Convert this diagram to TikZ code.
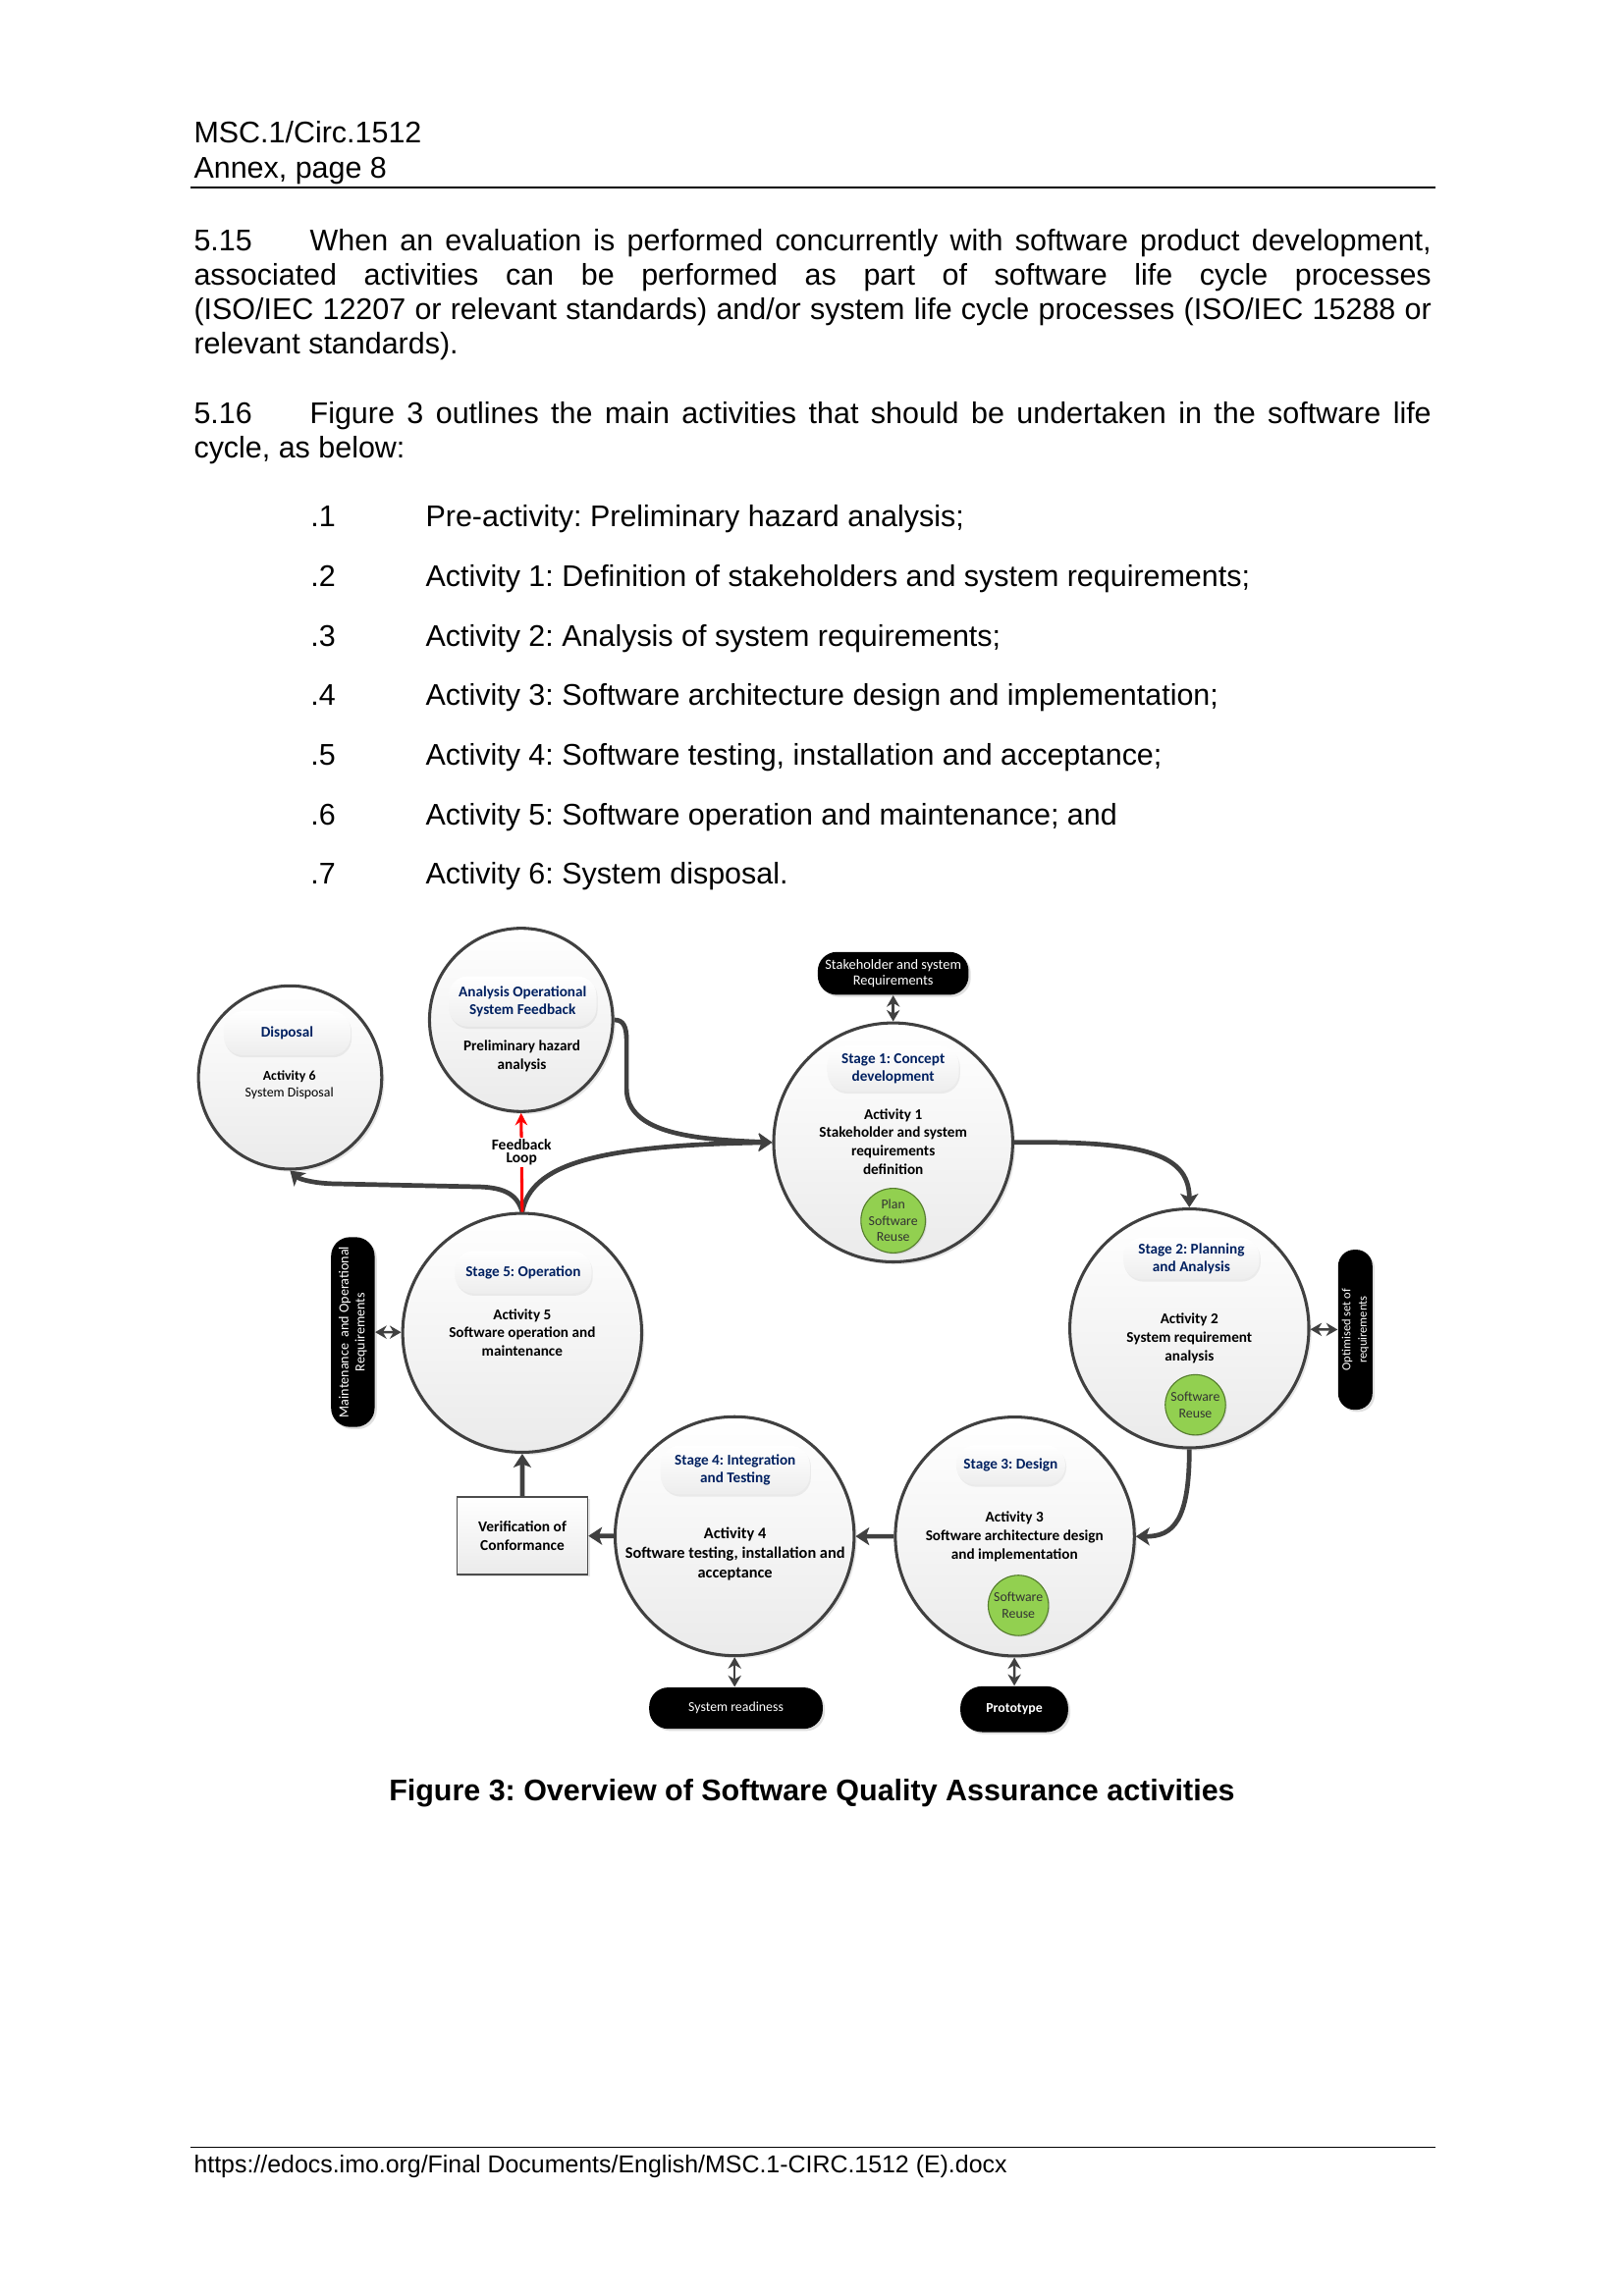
\documentclass[tikz,border=0pt]{standalone}
\usepackage{fontspec}
\setmainfont{Liberation Sans}
\newfontfamily\diagfont{Carlito}
\usetikzlibrary{arrows.meta,shadows}
\definecolor{navy}{RGB}{0,32,96}
\definecolor{linegray}{RGB}{64,64,64}
\definecolor{reusegreen}{RGB}{146,208,80}
\definecolor{reuseedge}{RGB}{85,125,45}
\frenchspacing

\tikzset{
  stagecircle/.style={circle,draw=linegray,line width=1.1pt,minimum size=3.09cm,top color=white,bottom color=black!8,
    drop shadow={shadow xshift=1pt,shadow yshift=-1pt,opacity=0.18}},
  endcircle/.style={stagecircle,minimum size=2.37cm},
  titlepill/.style={rounded corners=7pt,top color=white,bottom color=black!7,text=navy,align=center,inner sep=0pt,
    drop shadow={shadow xshift=0.4pt,shadow yshift=-0.8pt,opacity=0.12},
    font=\diagfont\bfseries\fontsize{5.5}{6.7}\selectfont},
  acttext/.style={align=center,inner sep=0pt,font=\diagfont\bfseries\fontsize{5.5}{6.74}\selectfont},
  reuse/.style={circle,draw=reuseedge,line width=0.4pt,fill=reusegreen,minimum size=0.78cm,inner sep=0pt,align=center,
    text=black!80,font=\diagfont\fontsize{5}{6}\selectfont,drop shadow={shadow xshift=0.5pt,shadow yshift=-0.5pt,opacity=0.2}},
  blackpill/.style={rounded corners=7pt,fill=black,text=white,align=center,inner sep=0pt,
    font=\diagfont\fontsize{5}{6}\selectfont,drop shadow={shadow xshift=0.8pt,shadow yshift=-0.8pt,opacity=0.25}},
  flow/.style={draw=linegray,line width=1.7pt,-{Stealth[length=5pt,width=6.5pt,inset=1.2pt]}},
  biarrow/.style={draw=linegray,line width=0.9pt,{Stealth[length=4.2pt,width=4.8pt]}-{Stealth[length=4.2pt,width=4.8pt]}},
  feedback/.style={draw=red,line width=1.1pt,-{Stealth[length=4.5pt,width=4.5pt]}},
  para/.style={anchor=base west,inner sep=0pt,text width=16cm,align=justify,font=\fontsize{11}{12.65}\selectfont},
  pagetext/.style={anchor=base west,inner sep=0pt,font=\fontsize{11}{12.65}\selectfont}
}

\begin{document}
\begin{tikzpicture}[x=0.019091cm,y=-0.019091cm]
    \path[use as bounding box,fill=white] (0,0) rectangle (1100,1555.6);

    % Header
    \node[pagetext] (docref) at (131,97) {MSC.1/Circ.1512};
    \node[pagetext] (annex) at (131,121) {Annex, page 8};
    \draw[line width=0.5pt] (129,127) -- (972,127);

    % Paragraphs
    \node[para] (p515) at (131,169.6) {\hyphenpenalty=10000\tolerance=9999\makebox[1.5cm][l]{5.15}When an evaluation is performed concurrently with software product development,\linebreak
      associated activities can be performed as part of software life cycle processes\linebreak
      (ISO/IEC 12207 or relevant standards) and/or system life cycle processes (ISO/IEC 15288 or\linebreak
      relevant standards).};
    \node[para] (p516) at (131,286.7) {\hyphenpenalty=10000\tolerance=9999\makebox[1.5cm][l]{5.16}Figure 3 outlines the main activities that should be undertaken in the software life\linebreak
      cycle, as below:};

    % List
    \foreach \n/\txt in {1/{Pre-activity: Preliminary hazard analysis;},
        2/{Activity 1: Definition of stakeholders and system requirements;},
        3/{Activity 2: Analysis of system requirements;},
        4/{Activity 3: Software architecture design and implementation;},
        5/{Activity 4: Software testing, installation and acceptance;},
        6/{Activity 5: Software operation and maintenance; and},
        7/{Activity 6: System disposal.}} {
      \node[pagetext] (num\n) at (210,{357.1+40.35*(\n-1)}) {.\n};
      \node[pagetext] (item\n) at (288,{357.1+40.35*(\n-1)}) {\txt};
    }

    % Stages
    \node[endcircle] (disp) at (196.5,730) {};
    \node[titlepill,minimum width=1.64cm,minimum height=0.57cm] (dispt) at (194.5,700) {Disposal};
    \node[align=center,inner sep=0pt,font=\diagfont\fontsize{5}{6}\selectfont] (dispa) at (196,735.1) {\textbf{Activity 6}\\System Disposal};

    \node[endcircle] (anal) at (353,691) {};
    \node[titlepill,minimum width=1.91cm,minimum height=0.65cm] (analt) at (354,678.5) {Analysis Operational\\System Feedback};
    \node[acttext] (anala) at (353.5,715.7) {Preliminary hazard\\analysis};

    \node[stagecircle] (s1) at (605,774) {};
    \node[titlepill,minimum width=1.70cm,minimum height=0.59cm] (s1t) at (605,724) {Stage 1: Concept\\development};
    \node[acttext] (s1a) at (605,773.4) {Activity 1\\Stakeholder and system\\requirements\\definition};
    \node[reuse] (s1g) at (605,827) {Plan\\Software\\Reuse};

    \node[stagecircle] (s2) at (805.6,900) {};
    \node[titlepill,minimum width=1.76cm,minimum height=0.54cm] (s2t) at (807,852.7) {Stage 2: Planning\\and Analysis};
    \node[acttext] (s2a) at (805.6,906.7) {Activity 2\\System requirement\\analysis};
    \node[reuse] (s2g) at (809.7,951.8) {Software\\Reuse};

    \node[stagecircle] (s3) at (687.4,1041) {};
    \node[titlepill,minimum width=1.41cm,minimum height=0.51cm] (s3t) at (684.6,992.5) {Stage 3: Design};
    \node[acttext] (s3a) at (687.2,1041) {Activity 3\\Software architecture design\\and implementation};
    \node[reuse] (s3g) at (689.8,1087.7) {Software\\Reuse};

    \node[stagecircle] (s4) at (497.6,1040.8) {};
    \node[titlepill,minimum width=1.93cm,minimum height=0.63cm] (s4t) at (498,996) {Stage 4: Integration\\and Testing};
    \node[acttext,font=\diagfont\bfseries\fontsize{5.9}{7.2}\selectfont] (s4a) at (497.9,1052.7) {Activity 4\\Software testing, installation and\\acceptance};

    \node[stagecircle] (s5) at (353.7,903) {};
    \node[titlepill,minimum width=1.77cm,minimum height=0.55cm] (s5t) at (354.4,862) {Stage 5: Operation};
    \node[acttext] (s5a) at (353.7,902.9) {Activity 5\\Software operation and\\maintenance};

    % Outputs
    \node[blackpill,minimum width=1.95cm,minimum height=0.554cm,font=\diagfont\fontsize{5.2}{6}\selectfont] (stake) at (605,659.5) {Stakeholder and system\\Requirements};
    \node[blackpill,rotate=90,rounded corners=6pt,minimum width=2.07cm,minimum height=0.443cm,font=\diagfont\fontsize{4.5}{6}\selectfont] (optim) at (918,900.9) {Optimised set of\\requirements};
    \node[blackpill,rotate=90,minimum width=2.455cm,minimum height=0.563cm,font=\diagfont\fontsize{5.1}{6}\selectfont] (maint) at (239,902.5) {Maintenance\ \ and Operational\\Requirements};
    \node[blackpill,minimum width=2.243cm,minimum height=0.535cm] (ready) at (498.5,1157.3) {System readiness};
    \node[blackpill,rounded corners=8pt,minimum width=1.394cm,minimum height=0.592cm,font=\diagfont\bfseries\fontsize{5}{6}\selectfont] (proto) at (687,1158) {Prototype};
    \node[draw=black!70,line width=0.6pt,top color=white,bottom color=black!8,minimum width=1.688cm,minimum height=0.998cm,
      align=center,inner sep=0pt,font=\diagfont\bfseries\fontsize{5.56}{6.8}\selectfont,
      drop shadow={shadow xshift=0.8pt,shadow yshift=-0.8pt,opacity=0.2}] (verif) at (353.8,1040.5) {Verification of\\Conformance};

    % Arrows
    \draw[biarrow] (stake) -- (s1);
    \draw[biarrow] (s2) -- (optim);
    \draw[biarrow] (maint) -- (s5);
    \draw[biarrow] (s4.south) -- (s4.south |- ready.north);
    \draw[biarrow] (s3) -- (proto);

    \draw[flow] (s1.east) .. controls (770,773) and (805.6,780) .. (s2.north);
    \draw[flow] (s2.south) .. controls (805.6,1030) and (795,1041) .. (s3.east);
    \draw[flow] (s3) -- (s4);
    \draw[flow] (s4) -- (verif);
    \draw[flow] (verif) -- (s5);
    \draw[flow] (s5.north) .. controls (360,790) and (400,776) .. (s1.west);
    \draw[flow] (s5.north) .. controls (350,808) and (340,804) .. (320,804) -- (225,802) .. controls (212,801.5) and (203,799) .. (disp.south);
    \draw[flow] (anal.east) .. controls (422,691) and (424.4,695) .. (424.4,705) -- (424.4,738) .. controls (425,768) and (470,772) .. (s1.west);
    \draw[feedback] (s5.north) -- node[pos=0.6,fill=white,inner sep=0.6pt,align=center,
      font=\diagfont\bfseries\fontsize{5.6}{4.6}\selectfont] (fbloop) {Feedback\\Loop} (anal.south);

    % Caption and footer
    \node[anchor=base,inner sep=0pt,font=\bfseries\fontsize{11}{12.65}\selectfont] (caption) at (550,1220) {Figure 3: Overview of Software Quality Assurance activities};
    \draw[line width=0.4pt] (129,1455) -- (972,1455);
    \node[anchor=base west,inner sep=0pt,font=\fontsize{9}{10.5}\selectfont] (footer) at (131,1472) {https://edocs.imo.org/Final Documents/English/MSC.1-CIRC.1512 (E).docx};
\end{tikzpicture}
\end{document}
